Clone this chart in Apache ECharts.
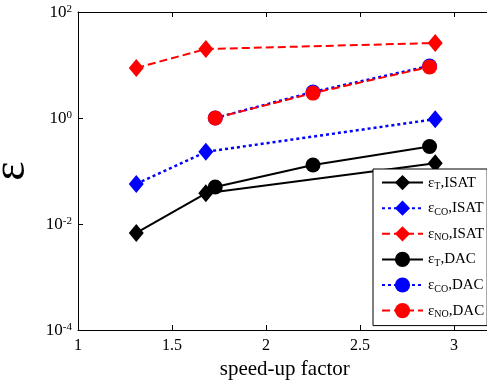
<!DOCTYPE html>
<html>
<head>
<meta charset="utf-8">
<script src="https://cdn.jsdelivr.net/npm/echarts@6/dist/echarts.min.js"></script>
<style>html,body{margin:0;padding:0;background:#fff}#c{width:487px;height:387px}</style>
</head>
<body>
<div id="c"></div>
<script>
// Data
var isatX = [1.31, 1.68, 2.90];
var dacX = [1.73, 2.25, 2.87];
var tISAT = [0.0068, 0.038, 0.14];
var coISAT = [0.057, 0.23, 0.95];
var noISAT = [8.8, 20, 26];
var tDAC = [0.05, 0.13, 0.29];
var coDAC = [1.0, 3.1, 9.6];
var noDAC = [1.0, 2.95, 9.2];
var xTicks = [1, 1.5, 2, 2.5, 3];
var legendNames = ['ε{sub|T},ISAT', 'ε{sub|CO},ISAT', 'ε{sub|NO},ISAT', 'ε{sub|T},DAC', 'ε{sub|CO},DAC', 'ε{sub|NO},DAC'];

function pairs(xs, ys) { return xs.map(function (x, i) { return [x, ys[i]]; }); }

var FONT = '"Liberation Serif", "DejaVu Serif", serif';
var BLACK = '#000000', BLUE = '#0000ff', RED = '#ff0000';

function mk(name, xs, ys, color, type, symbol, size, lw) {
  return {
    name: name, type: 'line', data: pairs(xs, ys),
    symbol: symbol, symbolSize: size,
    lineStyle: { color: color, width: lw, type: type },
    itemStyle: { color: color, borderColor: color, borderWidth: 0 },
    emphasis: { disabled: true }, animation: false, z: 3
  };
}

var chart = echarts.init(document.getElementById('c'), null, { renderer: 'canvas' });
chart.setOption({
  backgroundColor: '#ffffff',
  animation: false,
  textStyle: { fontFamily: FONT },
  grid: { left: 78, top: 12, width: 413.6, height: 318, outerBoundsMode: 'none', containLabel: false },
  xAxis: [{
    type: 'value', min: 1, max: 3.2, interval: 0.5, position: 'bottom',
    name: 'speed-up factor', nameLocation: 'middle', nameGap: 27,
    nameTextStyle: { fontFamily: FONT, fontSize: 21, color: '#000' },
    axisLine: { show: true, lineStyle: { color: '#000', width: 1 } },
    axisTick: { show: true, inside: true, length: 5, lineStyle: { color: '#000' } },
    axisLabel: { show: true, fontFamily: FONT, fontSize: 16, color: '#000', margin: 8, showMaxLabel: false,
      formatter: function (v) { return xTicks.indexOf(v) >= 0 ? String(v) : ''; } },
    splitLine: { show: false }
  }, {
    type: 'value', min: 1, max: 3.2, interval: 0.5, position: 'top',
    axisLine: { show: true, onZero: false, lineStyle: { color: '#000', width: 1 } },
    axisTick: { show: true, inside: true, length: 5, lineStyle: { color: '#000' } },
    axisLabel: { show: false }, splitLine: { show: false }
  }],
  yAxis: [{
    type: 'log', logBase: 10, min: 1e-4, max: 1e2, interval: 2,
    name: 'ε', nameLocation: 'middle', nameGap: 29,
    nameTextStyle: { fontFamily: FONT, fontSize: 46, color: '#000' },
    axisLine: { show: true, onZero: false, lineStyle: { color: '#000', width: 1 } },
    axisTick: { show: true, inside: true, length: 5, lineStyle: { color: '#000' } },
    minorTick: { show: false },
    axisLabel: {
      fontFamily: FONT, fontSize: 16, color: '#000', margin: 6,
      formatter: function (v) { return '{b|10}{s|' + Math.round(Math.log10(v)) + '}'; },
      rich: {
        b: { fontFamily: FONT, fontSize: 17, color: '#000', lineHeight: 18, verticalAlign: 'bottom' },
        s: { fontFamily: FONT, fontSize: 11, color: '#000', lineHeight: 11, verticalAlign: 'top', padding: [1, 0, 0, 0] }
      }
    },
    splitLine: { show: false }
  }],
  legend: {
    orient: 'vertical', left: 373, top: 169,
    backgroundColor: '#ffffff', borderColor: '#000', borderWidth: 1,
    padding: [6, 3, 6, 8],
    itemWidth: 41, itemHeight: 19, itemGap: 9, itemTextGap: 3,
    data: legendNames,
    textStyle: {
      fontFamily: FONT, fontSize: 15, color: '#000',
      rich: { sub: { fontFamily: FONT, fontSize: 10, color: '#000', padding: [8, 0, 0, 0] } }
    },
    selectedMode: false
  },
  series: [
    mk(legendNames[0], isatX, tISAT, BLACK, 'solid', 'diamond', [15, 18], 2),
    mk(legendNames[1], isatX, coISAT, BLUE, [3, 3], 'diamond', [15, 18], 2.5),
    mk(legendNames[2], isatX, noISAT, RED, [8, 4], 'diamond', [15, 18], 2),
    mk(legendNames[3], dacX, tDAC, BLACK, 'solid', 'circle', 15, 2),
    mk(legendNames[4], dacX, coDAC, BLUE, [3, 3], 'circle', 15, 2.5),
    mk(legendNames[5], dacX, noDAC, RED, [8, 4], 'circle', 15, 2)
  ]
});
</script>
</body>
</html>
